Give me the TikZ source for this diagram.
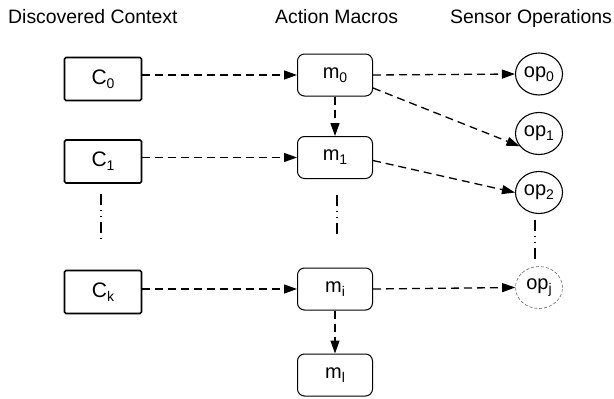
\documentclass[tikz,border=0pt]{standalone}
\usepackage{fontspec}
\setmainfont{Liberation Sans}
\usetikzlibrary{arrows.meta,shapes.geometric}
% lowered index used in all the labels
\newcommand\lowidx[1]{\raisebox{-4pt}{\fontsize{14}{14}\selectfont #1}}

\begin{document}
\begin{tikzpicture}[x=1pt,y=-1pt,
  heading/.style={anchor=base west, inner sep=0pt, font=\fontsize{19.4}{19.4}\selectfont},
  ctxbox/.style={draw, line width=1.6pt, rounded corners=1.5pt, minimum width=77pt,
    minimum height=43pt, inner sep=0pt, font=\fontsize{21}{21}\selectfont},
  macro/.style={draw, line width=1pt, rounded corners=7pt, minimum width=75pt,
    minimum height=42pt, inner sep=0pt, font=\fontsize{20}{20}\selectfont},
  sensop/.style={ellipse, draw, line width=1.1pt, minimum width=47pt,
    minimum height=42pt, inner sep=0pt, font=\fontsize{20}{20}\selectfont},
  pending/.style={sensop, draw=black!60, line width=0.6pt, dash pattern=on 3pt off 2pt},
  flow/.style={line width=1.3pt, dash pattern=on 8pt off 5pt,
    -{Triangle[length=13pt,width=9pt]}},
  gap/.style={line width=1.1pt,
    dash pattern=on 11pt off 5pt on 1pt off 5pt on 1pt off 5pt}
]
\useasboundingbox (0,0) rectangle (614,399);

% column headings
\node[heading] (hctx) at (8,23) {Discovered Context};
\node[heading] (hmac) at (275,23) {Action Macros};
\node[heading] (hops) at (450,23) {Sensor Operations};

% discovered contexts
\node[ctxbox] (C0) at (103,79) {C\lowidx{0}};
\node[ctxbox] (C1) at (103,161.5) {C\lowidx{1}};
\node[ctxbox] (Ck) at (103,292) {C\lowidx{k}};

% action macros
\node[macro] (m0) at (335,75) {m\lowidx{0}};
\node[macro] (m1) at (335,157.5) {m\lowidx{1}};
\node[macro] (mi) at (335,289) {m\lowidx{i}};
\node[macro] (ml) at (335,375) {m\lowidx{l}};

% sensor operations
\node[sensop] (op0) at (539,74) {op\lowidx{0}};
\node[sensop] (op1) at (539,133.5) {op\lowidx{1}};
\node[sensop] (op2) at (539,192.5) {op\lowidx{2}};
\node[pending] (opj) at (539,287.5) {op\lowidx{j}};

% contexts trigger macros
\draw[flow] (C0.east |- m0.west) -- (m0.west);
\draw[flow] (C1.east |- m1.west) -- (m1.west);
\draw[flow] (Ck.east |- mi.west) -- (mi.west);

% macro chains
\draw[flow] (m0.south) -- (m1.north);
\draw[flow] (mi.south) -- (ml.north);

% macros issue sensor operations
\draw[flow] (m0.east) -- (op0.west);
\draw[flow] ([yshift=-13pt]m0.east) -- (op1.213);
\draw[flow] ([yshift=-3pt]m1.east) -- (op2.west);
\draw[flow] (mi.east) -- (opj.west);

% elided rows
\draw[gap] ([xshift=-2pt,yshift=-10pt]C1.south) -- ([xshift=-2pt,yshift=31pt]Ck.north);
\draw[gap] ([xshift=2pt,yshift=-16pt]m1.south) -- ([xshift=2pt,yshift=29pt]mi.north);
\draw[gap] ([xshift=-4pt,yshift=-6pt]op2.south) -- ([xshift=-4pt,yshift=4pt]opj.north);
\end{tikzpicture}
\end{document}
